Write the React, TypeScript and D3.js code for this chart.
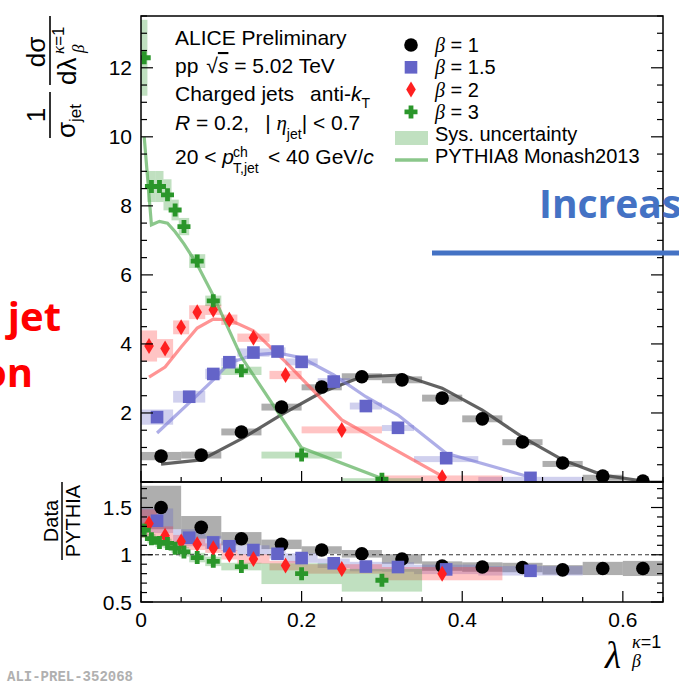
import React from 'react';
import * as d3 from 'd3';

// beta = 1
const b1Edges = [0, 0.05, 0.1, 0.15, 0.2, 0.25, 0.3, 0.35, 0.4, 0.45, 0.5, 0.55, 0.6, 0.65];
const b1Vals = [0.75, 0.78, 1.45, 2.17, 2.75, 3.05, 2.96, 2.43, 1.83, 1.16, 0.55, 0.17, 0.03];
const b1Sys = [0.12, 0.1, 0.1, 0.1, 0.08, 0.1, 0.1, 0.1, 0.1, 0.08, 0.06, 0.04, 0.02];
const b1Pythia = [0.52, 0.64, 1.25, 1.95, 2.6, 3.05, 3.1, 2.72, 2.08, 1.3, 0.64, 0.2, 0.03];
const b1Ratio = [1.5, 1.29, 1.17, 1.11, 1.05, 1.01, 0.955, 0.88, 0.87, 0.865, 0.84, 0.855, 0.855];
const b1RatioSys = [0.23, 0.12, 0.07, 0.05, 0.04, 0.04, 0.05, 0.05, 0.05, 0.05, 0.05, 0.07, 0.08];

// beta = 1.5
const b15Edges = [0, 0.04, 0.08, 0.1, 0.12, 0.16, 0.18, 0.22, 0.26, 0.3, 0.34, 0.42, 0.55];
const b15Vals = [1.88, 2.47, 3.13, 3.47, 3.75, 3.78, 3.48, 2.91, 2.2, 1.57, 0.69, 0.12];
const b15Sys = [0.22, 0.17, 0.15, 0.12, 0.12, 0.12, 0.1, 0.1, 0.1, 0.08, 0.06, 0.03];
const b15Pythia = [1.42, 2.29, 2.96, 3.45, 3.68, 3.74, 3.6, 3.1, 2.47, 1.94, 0.83, 0.14];
const b15Ratio = [1.36, 1.18, 1.13, 1.09, 1.05, 1.01, 0.965, 0.91, 0.875, 0.87, 0.845, 0.83];
const b15RatioSys = [0.13, 0.09, 0.07, 0.05, 0.05, 0.05, 0.05, 0.05, 0.05, 0.05, 0.05, 0.05];

// beta = 2
const b2Edges = [0, 0.02, 0.04, 0.06, 0.08, 0.1, 0.12, 0.16, 0.2, 0.3, 0.45];
const b2Vals = [3.94, 3.87, 4.48, 4.92, 4.99, 4.7, 4.18, 3.1, 1.51, 0.14];
const b2Sys = [0.45, 0.27, 0.2, 0.2, 0.15, 0.15, 0.12, 0.12, 0.1, 0.05];
const b2Pythia = [3.04, 3.33, 3.91, 4.46, 4.72, 4.7, 4.38, 3.48, 1.8, 0.17];
const b2Ratio = [1.33, 1.2, 1.14, 1.11, 1.07, 1.0, 0.955, 0.885, 0.85, 0.8];
const b2RatioSys = [0.15, 0.1, 0.07, 0.06, 0.05, 0.05, 0.05, 0.05, 0.05, 0.07];

// beta = 3
const b3Edges = [0, 0.008, 0.018, 0.028, 0.038, 0.047, 0.06, 0.08, 0.1, 0.15, 0.25, 0.35];
const b3Vals = [12.29, 8.56, 8.56, 8.32, 7.88, 7.4, 6.4, 5.25, 3.22, 0.78, 0.08];
const b3Sys = [1.1, 0.45, 0.45, 0.45, 0.3, 0.25, 0.2, 0.15, 0.12, 0.1, 0.03];
const b3Pythia = [10.0, 7.45, 7.55, 7.5, 7.25, 6.9, 6.3, 5.4, 3.62, 0.99, 0.1];
const b3Ratio = [1.26, 1.17, 1.13, 1.12, 1.07, 1.03, 0.97, 0.93, 0.875, 0.8, 0.73];
const b3RatioSys = [0.08, 0.05, 0.05, 0.05, 0.05, 0.05, 0.05, 0.05, 0.04, 0.11, 0.12];

const xTickLabels = ['0', '0.2', '0.4', '0.6'];
const yTopLabels = ['2', '4', '6', '8', '10', '12'];
const yRatioLabels = ['0.5', '1', '1.5'];

const series = [
  { label: '1', edges: b1Edges, vals: b1Vals, sys: b1Sys, py: b1Pythia, ratio: b1Ratio, rsys: b1RatioSys,
    marker: 'circle', color: '#000000', box: 'rgba(120,120,120,0.6)', line: 'rgba(70,70,70,0.85)' },
  { label: '1.5', edges: b15Edges, vals: b15Vals, sys: b15Sys, py: b15Pythia, ratio: b15Ratio, rsys: b15RatioSys,
    marker: 'square', color: '#6464c8', box: 'rgba(100,100,200,0.3)', line: 'rgba(120,120,215,0.6)' },
  { label: '2', edges: b2Edges, vals: b2Vals, sys: b2Sys, py: b2Pythia, ratio: b2Ratio, rsys: b2RatioSys,
    marker: 'diamond', color: '#ff2020', box: 'rgba(255,60,60,0.3)', line: 'rgba(255,90,90,0.65)' },
  { label: '3', edges: b3Edges, vals: b3Vals, sys: b3Sys, py: b3Pythia, ratio: b3Ratio, rsys: b3RatioSys,
    marker: 'cross', color: '#2a962a', box: 'rgba(60,160,60,0.32)', line: 'rgba(90,175,90,0.7)' },
];

const W = 679;
const H = 691;
const L = 141;
const R = 663;
const T = 16;
const B1 = 482;
const B2 = 602;

const x = d3.scaleLinear().domain([0, 0.65]).range([L, R]);
const yTop = d3.scaleLinear().domain([0, 13.5]).range([B1, T]);
const yRat = d3.scaleLinear().domain([0.5, 1.77]).range([B2, B1]);

const FONT = '"Liberation Sans", Arial, sans-serif';
const SERIF = '"Liberation Serif", "DejaVu Serif", serif';

const Marker = ({ type, cx, cy, color }) => {
  if (type === 'circle') return <circle cx={cx} cy={cy} r={6.8} fill={color} />;
  if (type === 'square') return <rect x={cx - 6.3} y={cy - 6.3} width={12.6} height={12.6} fill={color} />;
  if (type === 'diamond')
    return <path d={`M${cx},${cy - 8} L${cx + 4.8},${cy} L${cx},${cy + 8} L${cx - 4.8},${cy} Z`} fill={color} />;
  const a = 6.5, t = 2.4;
  return (
    <path
      d={`M${cx - t},${cy - a} H${cx + t} V${cy - t} H${cx + a} V${cy + t} H${cx + t} V${cy + a} H${cx - t} V${cy + t} H${cx - a} V${cy - t} H${cx - t} Z`}
      fill={color}
    />
  );
};

const centers = (edges) => edges.slice(0, -1).map((e, i) => (e + edges[i + 1]) / 2);

const App = () => {
  const line = d3.line();
  const xMinor = d3.range(0, 0.651, 0.05);
  const yTopMinor = d3.range(0, 13.51, 0.5);
  const yRatMinor = d3.range(0.5, 1.771, 0.1);

  const xTicks = (base) =>
    xMinor.map((v, i) => {
      const major = Math.abs(v / 0.2 - Math.round(v / 0.2)) < 1e-6;
      const len = major ? 11 : 5;
      return <line key={`xt${base}${i}`} x1={x(v)} x2={x(v)} y1={base} y2={base - len} stroke="#000" strokeWidth={1.2} />;
    });

  return (
    <svg width={W} height={H} style={{ position: 'absolute', left: 0, top: 0, background: '#fff' }} fontFamily={FONT}>
      <defs>
        <clipPath id="clipTop"><rect x={L} y={T} width={R - L} height={B1 - T} /></clipPath>
        <clipPath id="clipRat"><rect x={L} y={B1} width={R - L} height={B2 - B1} /></clipPath>
      </defs>

      {/* top panel */}
      <g clipPath="url(#clipTop)">
        {series.map((s) =>
          s.vals.map((v, i) => (
            <rect key={`b${s.label}${i}`} x={x(s.edges[i])} width={x(s.edges[i + 1]) - x(s.edges[i])}
              y={yTop(v + s.sys[i])} height={Math.max(6, yTop(v - s.sys[i]) - yTop(v + s.sys[i]))} fill={s.box} />
          ))
        )}
        {series.map((s) => {
          const c = centers(s.edges);
          return <path key={`l${s.label}`} d={line(c.map((cx, i) => [x(cx), yTop(s.py[i])]))} fill="none" stroke={s.line} strokeWidth={3.2} />;
        })}
        {series.map((s) => {
          const c = centers(s.edges);
          return s.vals.map((v, i) => <Marker key={`m${s.label}${i}`} type={s.marker} cx={x(c[i])} cy={yTop(v)} color={s.color} />);
        })}
      </g>

      {/* ratio panel */}
      <g clipPath="url(#clipRat)">
        {series.map((s) =>
          s.ratio.map((v, i) => (
            <rect key={`rb${s.label}${i}`} x={x(s.edges[i])} width={x(s.edges[i + 1]) - x(s.edges[i])}
              y={yRat(v + s.rsys[i])} height={yRat(v - s.rsys[i]) - yRat(v + s.rsys[i])} fill={s.box} />
          ))
        )}
        <line x1={L} x2={R} y1={yRat(1)} y2={yRat(1)} stroke="#333" strokeWidth={1} strokeDasharray="4,3" />
        {series.map((s) => {
          const c = centers(s.edges);
          return s.ratio.map((v, i) => <Marker key={`rm${s.label}${i}`} type={s.marker} cx={x(c[i])} cy={yRat(v)} color={s.color} />);
        })}
      </g>

      {/* frames */}
      <rect x={L} y={T} width={R - L} height={B1 - T} fill="none" stroke="#000" strokeWidth={1.5} />
      <rect x={L} y={B1} width={R - L} height={B2 - B1} fill="none" stroke="#000" strokeWidth={1.5} />

      {/* ticks */}
      {xTicks(B1)}
      {xTicks(B2)}
      {yTopMinor.map((v, i) => {
        const len = v % 2 === 0 ? 12 : 6;
        return (
          <g key={`yt${i}`}>
            <line x1={L} x2={L + len} y1={yTop(v)} y2={yTop(v)} stroke="#000" strokeWidth={1.2} />
            <line x1={R} x2={R - len} y1={yTop(v)} y2={yTop(v)} stroke="#000" strokeWidth={1.2} />
          </g>
        );
      })}
      {yRatMinor.map((v, i) => {
        const major = Math.abs(v * 2 - Math.round(v * 2)) < 1e-6;
        const len = major ? 12 : 6;
        return (
          <g key={`yr${i}`}>
            <line x1={L} x2={L + len} y1={yRat(v)} y2={yRat(v)} stroke="#000" strokeWidth={1.2} />
            <line x1={R} x2={R - len} y1={yRat(v)} y2={yRat(v)} stroke="#000" strokeWidth={1.2} />
          </g>
        );
      })}

      {/* tick labels */}
      {yTopLabels.map((l) => (
        <text key={`ytl${l}`} x={132} y={yTop(+l) + 7.5} textAnchor="end" fontSize={21}>{l}</text>
      ))}
      {yRatioLabels.map((l) => (
        <text key={`yrl${l}`} x={132} y={yRat(+l) + 7.5} textAnchor="end" fontSize={21}>{l}</text>
      ))}
      {xTickLabels.map((l) => (
        <text key={`xl${l}`} x={x(+l)} y={627} textAnchor="middle" fontSize={21}>{l}</text>
      ))}

      {/* y axis title */}
      <g transform="rotate(-90)" fontSize={26}>
        <text x={-115} y={45} textAnchor="middle">1</text>
        <line x1={-138} x2={-92} y1={50} y2={50} stroke="#000" strokeWidth={1.6} />
        <text x={-138} y={75}>σ<tspan fontSize={17} dy={6}>jet</tspan></text>
        <text x={-52} y={45} textAnchor="middle">dσ</text>
        <line x1={-85} x2={-16} y1={50} y2={50} stroke="#000" strokeWidth={1.6} />
        <text x={-85} y={76}>dλ</text>
        <text x={-54} y={64} fontSize={17} fontFamily={SERIF} fontStyle="italic">κ<tspan fontFamily={FONT} fontStyle="normal">=1</tspan></text>
        <text x={-53} y={84} fontSize={17} fontFamily={SERIF} fontStyle="italic">β</text>
      </g>
      <g transform="rotate(-90)" fontSize={20}>
        <text x={-521} y={58} textAnchor="middle">Data</text>
        <line x1={-560} x2={-482} y1={62} y2={62} stroke="#000" strokeWidth={1.5} />
        <text x={-521} y={80} textAnchor="middle">PYTHIA</text>
      </g>

      {/* x axis title */}
      <text x={605} y={668} fontSize={37} fontFamily={SERIF} fontStyle="italic">λ</text>
      <text x={632} y={648} fontSize={18} fontFamily={SERIF} fontStyle="italic">κ<tspan fontFamily={FONT} fontStyle="normal">=1</tspan></text>
      <text x={632} y={667} fontSize={18} fontFamily={SERIF} fontStyle="italic">β</text>

      {/* info text */}
      <g fontSize={21}>
        <text x={175} y={45}>ALICE Preliminary</text>
        <text x={175} y={73}>pp<tspan dx={8}>√</tspan><tspan fontStyle="italic" style={{ textDecoration: 'overline' }}>s</tspan> = 5.02 TeV</text>
        <text x={175} y={101}>Charged jets<tspan dx={16}>anti-</tspan><tspan fontStyle="italic">k</tspan><tspan fontSize={14} dy={7}>T</tspan></text>
        <text x={175} y={130}><tspan fontStyle="italic">R</tspan> = 0.2,<tspan dx={16}>| </tspan><tspan fontStyle="italic" fontFamily={SERIF}>η</tspan><tspan fontSize={14} dy={9}>jet</tspan><tspan dy={-9}>| &lt; 0.7</tspan></text>
        <text x={175} y={164}>20 &lt; <tspan fontStyle="italic">p</tspan></text>
        <text x={233} y={157} fontSize={14}>ch</text>
        <text x={233} y={173} fontSize={14}>T,jet</text>
        <text x={268} y={164}>&lt; 40 GeV/<tspan fontStyle="italic">c</tspan></text>
      </g>

      {/* legend */}
      <g fontSize={20}>
        {series.map((s, i) => (
          <g key={`lg${s.label}`}>
            <Marker type={s.marker} cx={411} cy={45 + i * 22.3} color={s.color} />
            <text x={435} y={52 + i * 22.3}><tspan fontFamily={SERIF} fontStyle="italic">β</tspan> = {s.label}</text>
          </g>
        ))}
        <rect x={395} y={131} width={33} height={14} fill="rgba(60,160,60,0.32)" />
        <text x={435} y={141}>Sys. uncertainty</text>
        <line x1={395} x2={428} y1={160} y2={160} stroke="rgba(90,175,90,0.7)" strokeWidth={3.5} />
        <text x={435} y={163}>PYTHIA8 Monash2013</text>
      </g>

      {/* slide overlays */}
      <text x={539} y={218} fontSize={39} fontWeight="bold" fontFamily='"Open Sans", sans-serif' fill="#4472c4">Increas</text>
      <line x1={432} x2={679} y1={253} y2={253} stroke="#4472c4" strokeWidth={5} />
      <text x={61} y={331} textAnchor="end" fontSize={40} fontWeight="bold" fontFamily='"Open Sans", sans-serif' fill="#ff0000">jet</text>
      <text x={33} y={387} textAnchor="end" fontSize={40} fontWeight="bold" fontFamily='"Open Sans", sans-serif' fill="#ff0000">on</text>
      <text x={7} y={681} fontSize={14} fontWeight="bold" fontFamily='"Liberation Mono", monospace' fill="#b0b0b0">ALI-PREL-352068</text>
    </svg>
  );
};

export default App;
